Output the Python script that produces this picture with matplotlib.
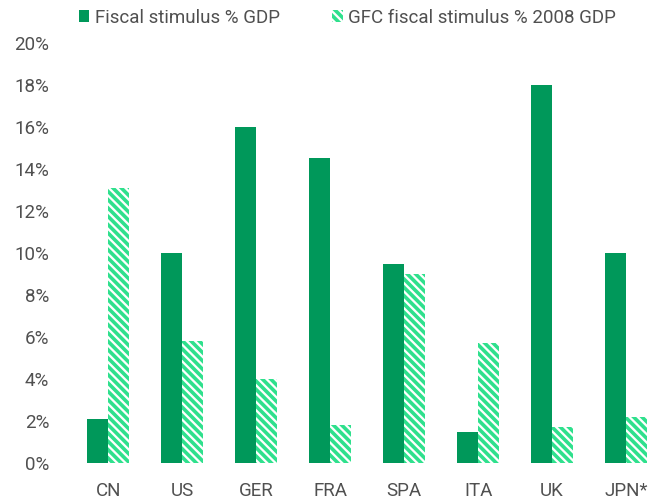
import numpy as np
import matplotlib
matplotlib.use('Agg')
from matplotlib import pyplot as plt

plt.rcParams['font.family'] = ['Roboto', 'DejaVu Sans']
plt.rcParams['hatch.linewidth'] = 2.6

# data
countries = ['CN', 'US', 'GER', 'FRA', 'SPA', 'ITA', 'UK', 'JPN*']
stimulus = [2.1, 10.0, 16.0, 14.5, 9.5, 1.5, 18.0, 10.0]
gfc_stimulus = [13.1, 5.8, 4.0, 1.8, 9.0, 5.7, 1.7, 2.2]
yticks = [0, 2, 4, 6, 8, 10, 12, 14, 16, 18, 20]

dark_green = '#00985a'
light_green = '#2fe08d'
text_color = '#505050'

fig = plt.figure(figsize=(6.56, 5.04), dpi=100)
ax = fig.add_axes([66 / 656, 41 / 504, (656 - 66) / 656, 420 / 504])

x = np.arange(len(countries))
w = 0.285
ax.bar(x - w / 2, stimulus, width=w, color=dark_green, linewidth=0,
       label='Fiscal stimulus % GDP')
# 4 backslashes -> stripes about 8 px apart
ax.bar(x + w / 2, gfc_stimulus, width=w, facecolor='white',
       edgecolor=light_green, hatch='\\\\\\\\', linewidth=0,
       label='GFC fiscal stimulus % 2008 GDP')

ax.set_xlim(-0.57, 7.405)
ax.set_ylim(0, 20)
ax.set_yticks(yticks)
ax.set_yticklabels([f'{t}%' for t in yticks])
ax.set_xticks(x)
ax.set_xticklabels(countries)

for s in ax.spines.values():
    s.set_visible(False)
ax.tick_params(axis='both', length=0, labelsize=13.5, labelcolor=text_color)
ax.tick_params(axis='x', pad=14)
ax.tick_params(axis='y', pad=12)

fig.legend(loc='upper center', bbox_to_anchor=(0.53, 1.016), ncol=2,
           frameon=False, fontsize=13.5, labelcolor=text_color,
           handlelength=0.55, handleheight=0.6, handletextpad=0.3,
           columnspacing=2.8)

fig.savefig('out.png', dpi=100)
